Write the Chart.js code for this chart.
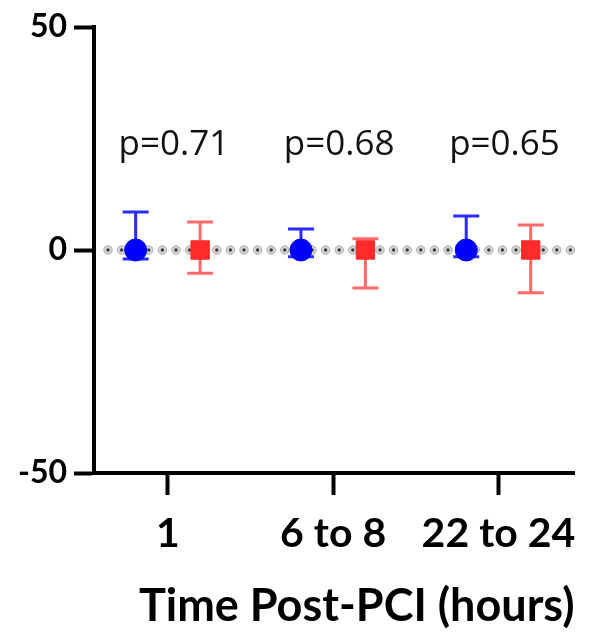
<!DOCTYPE html>
<html>
<head>
<meta charset="utf-8">
<script src="https://cdn.jsdelivr.net/npm/chart.js@4/dist/chart.umd.min.js"></script>
<style>
  body { margin: 0; background: #fff; }
  #wrap { width: 592px; height: 637px; }
</style>
</head>
<body>
<div id="wrap"><canvas id="myChart" width="592" height="637"></canvas></div>
<script>
// grupos de tiempo
var groups = ['1', '6 to 8', '22 to 24'];
var pValues = ['p=0.71', 'p=0.68', 'p=0.65'];

// serie azul (circulos)
var blueMean = [0, 0, 0];
var blueErrUp = [8.5, 4.7, 7.6];
var blueErrDown = [2.0, 1.5, 1.5];

// serie roja (cuadrados)
var redMean = [0, 0, 0];
var redErrUp = [6.3, 2.5, 5.6];
var redErrDown = [5.2, 8.5, 9.6];

var yTicks = [-50, 0, 50];
var shift = 0.195; // separacion de cada serie respecto al centro del grupo

function points(mean, side) {
    return mean.map(function (v, i) {
        return { x: i + 1 + side * shift, y: v };
    });
}

// linea punteada en cero y barras de error, debajo de los marcadores
var errorBars = {
    id: 'errorBars',
    beforeDatasetsDraw: function (chart) {
        var ctx = chart.ctx;
        var xs = chart.scales.x, ys = chart.scales.y;
        var y0 = ys.getPixelForValue(0);
        var area = chart.chartArea;
        ctx.save();
        for (var x = area.left + 14; x < area.right; x += 13.6) {
            ctx.beginPath();
            ctx.arc(x, y0, 4.2, 0, Math.PI * 2);
            ctx.fillStyle = '#d6d6d6';
            ctx.fill();
            ctx.lineWidth = 1;
            ctx.strokeStyle = '#aaaaaa';
            ctx.stroke();
            ctx.beginPath();
            ctx.arc(x, y0, 1.7, 0, Math.PI * 2);
            ctx.fillStyle = '#3a3a3a';
            ctx.fill();
        }

        var sets = [
            { mean: blueMean, up: blueErrUp, down: blueErrDown, side: -1, color: '#2b2bff' },
            { mean: redMean, up: redErrUp, down: redErrDown, side: 1, color: '#ff6b6b' }
        ];
        ctx.lineWidth = 3;
        sets.forEach(function (s) {
            ctx.strokeStyle = s.color;
            s.mean.forEach(function (m, i) {
                var px = xs.getPixelForValue(i + 1 + s.side * shift);
                var top = ys.getPixelForValue(m + s.up[i]);
                var bot = ys.getPixelForValue(m - s.down[i]);
                ctx.beginPath();
                ctx.moveTo(px, top); ctx.lineTo(px, bot);
                ctx.moveTo(px - 13, top); ctx.lineTo(px + 13, top);
                ctx.moveTo(px - 13, bot); ctx.lineTo(px + 13, bot);
                ctx.stroke();
            });
        });
        ctx.restore();
    }
};

// textos de p sobre cada grupo
var pLabels = {
    id: 'pLabels',
    afterDraw: function (chart) {
        var ctx = chart.ctx;
        var xs = chart.scales.x, ys = chart.scales.y;
        ctx.save();
        ctx.font = '35px "Open Sans"';
        ctx.fillStyle = '#111';
        ctx.textAlign = 'center';
        ctx.textBaseline = 'alphabetic';
        pValues.forEach(function (t, i) {
            ctx.fillText(t, xs.getPixelForValue(i + 1) + 6, ys.getPixelForValue(21.3));
        });
        ctx.restore();
    }
};

var configChart = {
    type: 'scatter',
    data: {
        datasets: [{
            data: points(blueMean, -1),
            backgroundColor: '#0000ff',
            borderColor: '#0000ff',
            pointStyle: 'circle',
            pointRadius: 11,
            pointHoverRadius: 11
        }, {
            data: points(redMean, 1),
            backgroundColor: '#ff2a2a',
            borderColor: '#ff2a2a',
            pointStyle: 'rect',
            pointRadius: 13,
            pointHoverRadius: 13
        }]
    },
    options: {
        responsive: false,
        animation: false,
        layout: { padding: { top: 27, right: 17 } },
        plugins: {
            legend: { display: false },
            tooltip: { enabled: false }
        },
        scales: {
            x: {
                type: 'linear',
                min: 0.553,
                max: 3.46,
                afterBuildTicks: function (scale) {
                    scale.ticks = groups.map(function (g, i) { return { value: i + 1 }; });
                },
                afterFit: function (scale) { scale.height = 164; },
                ticks: {
                    callback: function (v) { return groups[v - 1]; },
                    color: '#000',
                    font: { family: 'Lato', weight: 'bold', size: 41 },
                    padding: 14,
                    maxRotation: 0
                },
                grid: { drawOnChartArea: false, tickLength: 22, tickWidth: 4, tickColor: '#000' },
                border: { width: 4, color: '#000' },
                title: {
                    display: true,
                    text: 'Time Post-PCI (hours)',
                    align: 'end',
                    color: '#000',
                    font: { family: 'Lato', weight: 'bold', size: 45 },
                    padding: { top: 4 }
                }
            },
            y: {
                min: -50,
                max: 50,
                afterBuildTicks: function (scale) {
                    scale.ticks = yTicks.map(function (v) { return { value: v }; });
                },
                afterFit: function (scale) { scale.width = 94; },
                ticks: {
                    color: '#000',
                    font: { family: 'Lato', weight: 'bold', size: 32 },
                    padding: 7
                },
                grid: { drawOnChartArea: false, tickLength: 20, tickWidth: 4, tickColor: '#000' },
                border: { width: 4, color: '#000' }
            }
        }
    },
    plugins: [errorBars, pLabels]
};

window.onload = () => {
    const myChart = document.querySelector('#myChart').getContext('2d');
    var graphicsChart = new Chart(myChart, configChart);
};
</script>
</body>
</html>
